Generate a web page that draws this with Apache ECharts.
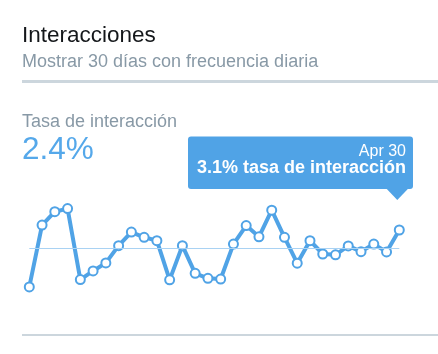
<!DOCTYPE html>
<html>
<head>
<meta charset="utf-8">
<script src="https://cdn.jsdelivr.net/npm/echarts@6/dist/echarts.min.js"></script>
<style>
  html, body { margin: 0; padding: 0; background: #fff; }
  #chart { width: 438px; height: 354px; }
</style>
</head>
<body>
<div id="chart"></div>
<script>
// tasa de interacción diaria, abril
const days = [
  'Apr 1', 'Apr 2', 'Apr 3', 'Apr 4', 'Apr 5', 'Apr 6', 'Apr 7', 'Apr 8', 'Apr 9', 'Apr 10',
  'Apr 11', 'Apr 12', 'Apr 13', 'Apr 14', 'Apr 15', 'Apr 16', 'Apr 17', 'Apr 18', 'Apr 19', 'Apr 20',
  'Apr 21', 'Apr 22', 'Apr 23', 'Apr 24', 'Apr 25', 'Apr 26', 'Apr 27', 'Apr 28', 'Apr 29', 'Apr 30'
]
const rates = [
  0.92, 3.29, 3.80, 3.92, 1.20, 1.53, 1.84, 2.50, 3.02, 2.82,
  2.69, 1.19, 2.50, 1.44, 1.25, 1.22, 2.56, 3.27, 2.84, 3.86,
  2.82, 1.83, 2.69, 2.18, 2.15, 2.49, 2.27, 2.56, 2.26, 3.10
]
const avgRate = 2.4

const FONT = '"Helvetica Neue", Helvetica, Arial, sans-serif'
const BLUE = '#50a3e6'
const GRAY = '#8899a6'
const RULE = '#ccd6dd'

const chart = echarts.init(document.getElementById('chart'))

chart.setOption({
  animation: false,
  backgroundColor: '#fff',
  grid: { left: 29.3, right: 38.7, top: 180.4, bottom: 43.1 },
  xAxis: { type: 'category', data: days, boundaryGap: false, show: false },
  yAxis: { type: 'value', min: 0, max: 5, show: false },
  series: [
    {
      type: 'line',
      data: rates,
      symbol: 'circle',
      symbolSize: 9,
      showAllSymbol: true,
      z: 3,
      lineStyle: { color: BLUE, width: 4 },
      itemStyle: { color: '#fff', borderColor: BLUE, borderWidth: 2 },
      markLine: {
        silent: true,
        symbol: 'none',
        label: { show: false },
        lineStyle: { color: '#a9d2f3', width: 1, type: 'solid' },
        data: [{ yAxis: avgRate }]
      }
    }
  ]
})

// caja del último día, puesta sobre el punto
const last = rates.length - 1
const [px, py] = chart.convertToPixel({ seriesIndex: 0 }, [last, rates[last]])
const boxRight = px + 13.7
const boxBottom = py - 41

const label = (text, x, y, fill, font, align) => ({
  type: 'text', x: x, y: y,
  style: { text: text, fill: fill, font: font, align: align || 'left', verticalAlign: 'middle' }
})

chart.setOption({
  graphic: [
    label('Interacciones', 22, 35.5, '#14171a', '22.5px ' + FONT),
    label('Mostrar 30 días con frecuencia diaria', 22, 62.5, GRAY, '18px ' + FONT),
    { type: 'rect', shape: { x: 22, y: 80, width: 416, height: 3 }, style: { fill: RULE } },
    label('Tasa de interacción', 22, 122.5, GRAY, '18px ' + FONT),
    label(avgRate + '%', 22, 150.5, '#55a8ea', '31.5px ' + FONT),
    {
      type: 'rect',
      shape: { x: 188, y: boxBottom - 52.6, width: boxRight - 188, height: 52.6, r: 3 },
      style: { fill: BLUE }
    },
    {
      type: 'polygon',
      shape: { points: [[px - 13, boxBottom - 0.5], [px + 9, boxBottom - 0.5], [px - 2, py - 30]] },
      style: { fill: BLUE }
    },
    label(days[last], boxRight - 7, boxBottom - 37, '#fff', '16px ' + FONT, 'right'),
    label(rates[last].toFixed(1) + '% tasa de interacción', boxRight - 7, boxBottom - 20.6,
      '#fff', 'bold 18px ' + FONT, 'right'),
    { type: 'rect', shape: { x: 22, y: 334, width: 416, height: 2 }, style: { fill: RULE } }
  ]
})
</script>
</body>
</html>
